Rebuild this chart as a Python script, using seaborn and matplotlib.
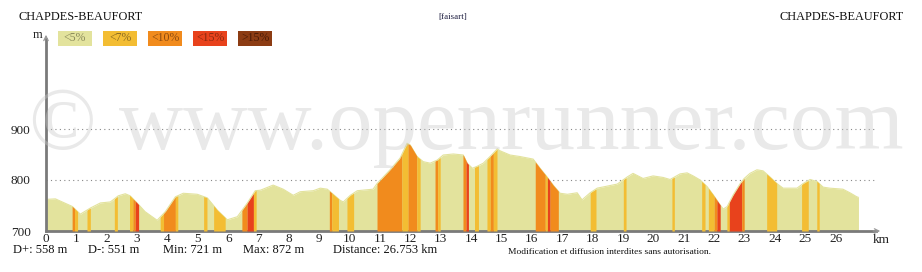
import numpy as np
import pandas as pd
import matplotlib
matplotlib.use("Agg")
import matplotlib.pyplot as plt
import seaborn as sns

# ---------------- data ----------------
km = [0.0, 0.31, 0.87, 1.13, 1.46, 1.79, 2.12, 2.38, 2.61, 2.77, 3.0, 3.26, 3.66, 3.93,
      4.26, 4.52, 4.98, 5.31, 5.64, 5.97, 6.3, 6.63, 6.89, 7.06, 7.48, 7.81, 8.14, 8.37,
      8.8, 9.03, 9.26, 9.36, 9.69, 9.79, 10.02, 10.25, 10.77, 10.9, 11.33, 11.66, 11.89,
      11.99, 12.22, 12.42, 12.65, 12.88, 13.08, 13.41, 13.74, 13.87, 14.04, 14.2, 14.4,
      14.62, 14.86, 14.96, 15.28, 15.61, 16.04, 16.27, 16.5, 16.7, 16.93, 17.17, 17.49,
      17.65, 17.92, 18.15, 18.48, 18.81, 19.14, 19.33, 19.66, 19.99, 20.32, 20.55, 20.88,
      21.11, 21.31, 21.54, 21.77, 21.97, 22.2, 22.3, 22.43, 22.63, 22.86, 22.99, 23.18,
      23.41, 23.61, 23.84, 24.07, 24.27, 24.73, 24.93, 25.16, 25.39, 25.59, 25.81, 26.24,
      26.47, 26.7, 26.753]
elevation = [762, 763, 748, 733, 745, 755, 757, 769, 773, 769, 755, 738, 721, 738,
             767, 774, 772, 765, 741, 722, 728, 755, 779, 780, 790, 782, 770, 777,
             779, 784, 782, 777, 760, 757, 770, 779, 782, 793, 820, 843, 872,
             869, 846, 836, 833, 839, 849, 851, 849, 833, 823, 827, 833,
             846, 861, 857, 849, 846, 841, 823, 806, 790, 774, 772, 775,
             761, 775, 784, 788, 792, 806, 813, 803, 808, 805, 801, 812,
             814, 808, 800, 787, 771, 751, 743, 748, 771, 793, 803, 813,
             820, 818, 806, 793, 784, 784, 793, 801, 797, 786, 784, 782,
             775, 767, 766]

# slope-class bands (start km, end km, class index)
band_start = [0.86, 0.94, 1.35, 2.25, 2.75, 2.86, 2.94, 3.76, 3.87, 4.26, 5.19, 5.52,
              6.45, 6.62, 6.83, 9.33, 9.41, 9.91, 10.90, 11.72, 11.92, 12.21, 12.81,
              12.90, 13.73, 13.83, 14.11, 14.52, 14.63, 14.73, 16.11, 16.44, 16.51,
              16.60, 17.92, 19.01, 20.61, 21.59, 21.81, 22.00, 22.09, 22.42, 22.50,
              22.91, 23.73, 24.88, 25.38]
band_end = [0.94, 1.04, 1.46, 2.35, 2.86, 2.94, 3.05, 3.87, 4.26, 4.34, 5.30, 5.90,
            6.62, 6.83, 6.92, 9.41, 9.63, 10.13, 11.72, 11.92, 12.21, 12.32, 12.90,
            12.98, 13.83, 13.91, 14.24, 14.63, 14.73, 14.85, 16.44, 16.51, 16.60,
            16.87, 18.11, 19.10, 20.69, 21.70, 22.00, 22.09, 22.20, 22.50, 22.91,
            22.99, 24.06, 25.10, 25.46]
band_class = [2, 1, 1, 1, 1, 2, 3, 1, 2, 1, 1, 1,
              2, 3, 1, 2, 1, 1, 2, 1, 2, 1, 2,
              1, 2, 3, 1, 1, 2, 1, 2, 1, 3,
              2, 1, 1, 1, 1, 1, 2, 3, 1, 3,
              2, 1, 1, 1]

class_labels = ["<5%", "<7%", "<10%", "<15%", ">15%"]
class_colors = ["#e3e39d", "#f3bd33", "#f18b1d", "#e8421c", "#8c3c13"]
class_text_colors = ["#8a8a5a", "#8a6a20", "#8a4a10", "#8a2a10", "#4a1a05"]

x_ticks = list(range(27))
y_ticks = [700, 800, 900]

start_name = "CHAPDES-BEAUFORT"
end_name = "CHAPDES-BEAUFORT"
author = "[faisart]"
stats = ["D+: 558 m", "D-: 551 m", "Min: 721 m", "Max: 872 m", "Distance: 26.753 km"]
stats_x = [13, 88, 163, 243, 333]
notice = "Modification et diffusion interdites sans autorisation."

# ---------------- figure ----------------
sns.set_theme(style="white")
plt.rcParams["font.family"] = ["Liberation Serif", "DejaVu Serif"]

W, H = 922, 272
fig = plt.figure(figsize=(W / 100, H / 100), dpi=100)
fig.patch.set_facecolor("white")

def px(x, y):
    return x / W, 1 - y / H

ax_l, ax_r, ax_t, ax_b = 46, 883, 32, 231
ax = fig.add_axes([ax_l / W, 1 - ax_b / H, (ax_r - ax_l) / W, (ax_b - ax_t) / H])
ax.set_facecolor("white")

df = pd.DataFrame({"km": km, "elevation": elevation})
ymin = 700
ymax = 700 + (ax_b - ax_t) / 0.51
xmax = (ax_r - 45.7) / 30.38

# base fill (<5%)
ax.fill_between(df["km"], ymin, df["elevation"], color=class_colors[0], lw=0, zorder=1)
sns.lineplot(data=df, x="km", y="elevation", ax=ax, color=class_colors[0], lw=0.8,
             zorder=2, legend=False)

# class bands
for s, e, c in zip(band_start, band_end, band_class):
    xs = np.linspace(s, e, 12)
    ys = np.interp(xs, df["km"], df["elevation"])
    ax.fill_between(xs, ymin, ys, color=class_colors[c], lw=0, zorder=3)

# dotted grid lines
for gy in [800, 900]:
    ax.plot([0, (875 - 45.7) / 30.38], [gy, gy], ls=(0, (1, 3)), color="#888888", lw=0.8, zorder=0)

ax.set_xlim(0, xmax)
ax.set_ylim(ymin, ymax)
ax.set_xticks(x_ticks)
ax.set_xticklabels([str(t) for t in x_ticks], fontsize=9.5)
ax.set_yticks(y_ticks)
ax.set_yticklabels([str(t) for t in y_ticks], fontsize=9.5)
ax.tick_params(axis="both", length=0, pad=1.5, colors="#222222")
ax.tick_params(axis="y", pad=11)
ax.set_xlabel("")
ax.set_ylabel("")
for side in ["top", "right"]:
    ax.spines[side].set_visible(False)
for side in ["left", "bottom"]:
    ax.spines[side].set_color("#7a7a7a")
    ax.spines[side].set_linewidth(2)
ax.spines["left"].set_bounds(ymin, ymin + (ax_b - 39) / 0.51)
ax.spines["bottom"].set_bounds(0, (876 - 45.7) / 30.38)

# arrow heads
ax.annotate("", xy=(0, 1.0), xycoords="axes fraction", xytext=(0, 0.955),
            arrowprops=dict(arrowstyle="->", color="#999999", lw=0.9, mutation_scale=8))
ax.annotate("", xy=(1.0, 0), xycoords="axes fraction", xytext=(0.985, 0),
            arrowprops=dict(arrowstyle="->", color="#999999", lw=0.9, mutation_scale=8))

# watermark
fig.text(*px(466, 127), "\u00a9 www.openrunner.com", fontsize=64, color="#c8c8c8",
         alpha=0.4, ha="center", va="center", zorder=10,
         family=["Liberation Serif", "DejaVu Serif"])

# header
fig.text(*px(18, 17), start_name, fontsize=8.8, ha="left", va="center", color="#111111")
fig.text(*px(904, 17), end_name, fontsize=8.8, ha="right", va="center", color="#111111")
fig.text(*px(453, 17), author, fontsize=6.5, ha="center", va="center", color="#222244")
fig.text(*px(42, 35), "m", fontsize=9, ha="right", va="center", color="#222222")

# legend boxes
for i, (lab, col, tcol) in enumerate(zip(class_labels, class_colors, class_text_colors)):
    x0 = 58 + i * 45
    fig.patches.append(plt.Rectangle(px(x0, 46), 34 / W, 15 / H, transform=fig.transFigure,
                                     facecolor=col, edgecolor="none", figure=fig))
    fig.text(*px(x0 + 17, 38), lab, fontsize=8.5, ha="center", va="center", color=tcol)

# km label
fig.text(*px(881, 240), "km", fontsize=9.5, ha="center", va="center", color="#222222")

# footer stats
for txt, sx in zip(stats, stats_x):
    fig.text(*px(sx, 250), txt, fontsize=9, ha="left", va="center", color="#111111")
fig.text(*px(508, 252), notice, fontsize=6.8, ha="left", va="center", color="#111111")

fig.savefig("out.png", dpi=100, facecolor="white")
